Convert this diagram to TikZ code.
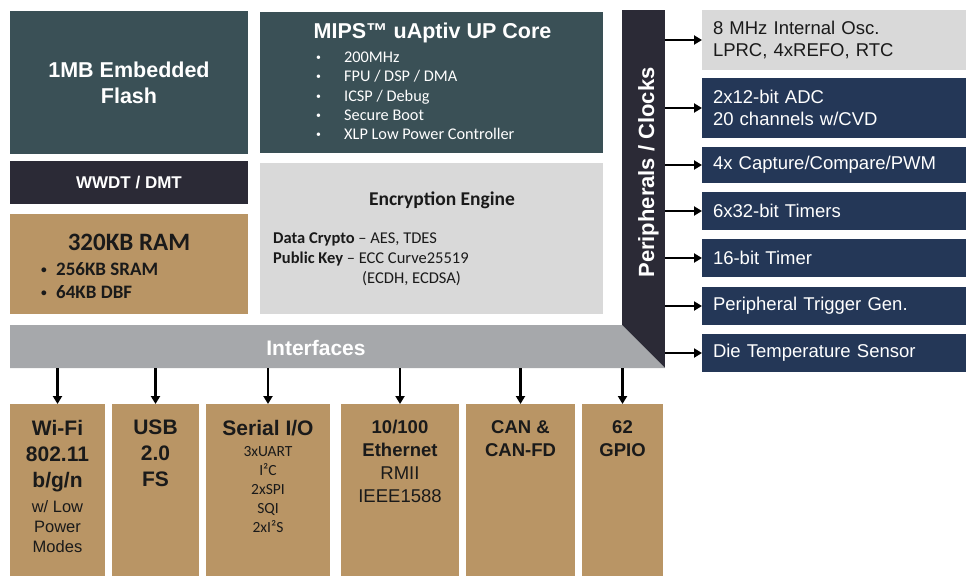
\documentclass[tikz,border=0pt]{standalone}
\usepackage{fontspec}
\setmainfont{Liberation Sans}
\newfontfamily\calfont{Carlito}
\usetikzlibrary{arrows.meta}
\definecolor{coreteal}{RGB}{58,80,86}
\definecolor{wdtdark}{RGB}{43,42,54}
\definecolor{ramtan}{RGB}{185,149,101}
\definecolor{encgrey}{RGB}{217,217,217}
\definecolor{perinavy}{RGB}{36,55,87}
\definecolor{busgrey}{RGB}{166,168,171}
\definecolor{inkdark}{RGB}{26,26,26}
\newcommand{\fsz}[2]{\fontsize{#1}{#2}\selectfont}
\newcommand{\smbul}[1]{\raisebox{#1}{\scalebox{.6}{•}}}

\begin{document}
\begin{tikzpicture}[x=1pt,y=-1pt,
  blk/.style={inner sep=0pt,outer sep=0pt},
  arr/.style={line width=2.4pt,-{Triangle[length=8pt,width=9pt]}},
  peri/.style={blk,fill=perinavy,text=white,minimum width=264,text width=242,align=left,font=\fsz{18.5}{22}},
  ifbox/.style={blk,fill=ramtan,minimum height=172,anchor=north},
  hd/.style={anchor=north,align=center,inner sep=0pt,text=inkdark,font=\fsz{21}{26}\bfseries}]
\useasboundingbox (0,0) rectangle (966,576);

\node[blk,fill=coreteal,minimum width=238,minimum height=143,text=white,align=center,font=\fsz{21.5}{26}\bfseries] (flash) at (129,82.5) {1MB Embedded\\Flash};
\node[blk,fill=wdtdark,minimum width=238,minimum height=43,text=white,font=\fsz{17}{20}\bfseries] (wdt) at (129,182.5) {WWDT / DMT};
\node[blk,fill=ramtan,minimum width=238,minimum height=100] (ram) at (129,264) {};
\node[anchor=base,inner sep=0pt,text=inkdark,font=\calfont\fsz{25}{26}\bfseries] (ramhd) at (129,250) {320KB RAM};
\foreach \y/\ytext in {275/256KB SRAM,298/64KB DBF}
{
    \node[anchor=base west,inner sep=0pt,text=inkdark,font=\calfont\fsz{19}{20}\bfseries] (ram\y) at (41,\y) {\makebox[15pt][l]{\smbul{1.5pt}}\ytext};
}

\node[blk,fill=coreteal,minimum width=343,minimum height=141] (core) at (431.5,82.5) {};
\node[anchor=base,inner sep=0pt,text=white,font=\fsz{21.5}{24}\bfseries] (corehd) at (432.5,38) {MIPS™ uAptiv UP Core};
\foreach \y/\ytext in {62/200MHz,81/{FPU / DSP / DMA},101/{ICSP / Debug},120/Secure Boot,139/XLP Low Power Controller}
{
    \node[anchor=base west,inner sep=0pt,text=white,font=\calfont\fsz{16.3}{18}] (core\y) at (316,\y) {\makebox[28pt][l]{\smbul{1.5pt}}\ytext};
}

\node[blk,fill=encgrey,minimum width=343,minimum height=151] (enc) at (431.5,238.5) {};
\node[anchor=base,inner sep=0pt,text=inkdark,font=\calfont\fsz{19.5}{22}\bfseries] (enchd) at (442,205) {Encryption Engine};
\node[anchor=base west,inner sep=0pt,text=inkdark,font=\calfont\fsz{16.5}{18}] (encdata) at (273,243) {\textbf{Data Crypto} – AES, TDES};
\node[anchor=base west,inner sep=0pt,text=inkdark,font=\calfont\fsz{16.5}{18}] (encpub) at (273,263) {\textbf{Public Key} – ECC Curve25519};
\node[anchor=base west,inner sep=0pt,text=inkdark,font=\calfont\fsz{16.5}{18}] (encecc) at (362,283) {(ECDH, ECDSA)};

\node[blk,fill=wdtdark,minimum width=43,minimum height=325] (pc) at (643.5,172.5) {};
\node[rotate=90,anchor=base,inner sep=0pt,text=white,font=\fsz{22}{24}\bfseries] (pctxt) at (654,172.5) {Peripherals / Clocks};
\fill[wdtdark] (pc.south west) rectangle ++(43,33);

\node[blk,minimum width=655,minimum height=43] (intf) at (337.5,346.5) {};
\fill[busgrey] (intf.north west) -- ([xshift=-43pt]intf.north east) -- (intf.south east) -- (intf.south west) -- cycle;
\node[anchor=base,inner sep=0pt,text=white,font=\fsz{21}{22}\bfseries] (intftxt) at (316,355) {Interfaces};

\node[peri,fill=encgrey,text=inkdark,minimum height=60] (osc) at (834,40) {8 MHz Internal Osc.\\LPRC, 4xREFO, RTC};
\foreach \n/\y/\h/\ytext in {adc/108/60/{2x12-bit ADC\\20 channels w/CVD},ccp/165/36/{4x Capture/Compare/PWM},tmra/211/38/6x32-bit Timers,tmrb/258/38/16-bit Timer,ptg/306/38/Peripheral Trigger Gen.,temp/353/38/Die Temperature Sensor}
{
    \node[peri,minimum height=\h] (\n) at (834,\y) {\ytext};
}
\foreach \n in {osc,adc,ccp,tmra,tmrb,ptg,temp}
{
    \draw[arr] (pc.east |- \n.west) -- (\n.west);
}

\foreach \n/\x/\w in {wifi/57.5/95,usb/155.5/87,sio/268/124,eth/400/118,can/520.5/109,gpio/622.5/81}
{
    \node[ifbox,minimum width=\w] (\n) at (\x,404) {};
    \draw[arr] (intf.south -| \n.north) -- (\n.north);
}
\node[hd] (wifihd) at ([yshift=-16pt]wifi.north) {Wi-Fi\\802.11\\b/g/n};
\node[hd,font=\fsz{16.5}{20}] (wifibody) at (57.5,500) {w/ Low\\Power\\Modes};
\node[hd] (usbhd) at ([yshift=-16pt]usb.north) {USB\\2.0\\FS};
\node[hd] (siohd) at ([yshift=-16pt]sio.north) {Serial I/O};
\foreach \y/\ytext in {456/3xUART,475/I²C,494/2xSPI,513/SQI,532/2xI²S}
{
    \node[anchor=base,inner sep=0pt,text=inkdark,font=\calfont\fsz{15.5}{18}] (sio\y) at (268,\y) {\ytext};
}
\node[hd,font=\fsz{18.5}{23}] (ethhd) at ([yshift=-16pt]eth.north) {\textbf{10/100}\\\textbf{Ethernet}\\RMII\\IEEE1588};
\node[hd,font=\fsz{18.5}{23}\bfseries] (canhd) at ([yshift=-16pt]can.north) {CAN \&\\CAN-FD};
\node[hd,font=\fsz{18.5}{23}\bfseries] (gpiohd) at ([yshift=-16pt]gpio.north) {62\\GPIO};

\end{tikzpicture}
\end{document}
